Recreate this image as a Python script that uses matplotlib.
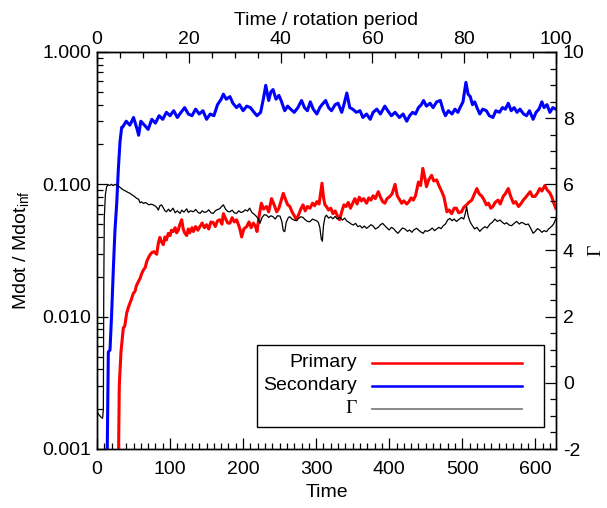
import numpy as np
import matplotlib
matplotlib.use("Agg")
import matplotlib.pyplot as plt
from matplotlib.ticker import MultipleLocator, LogLocator, FixedLocator, FuncFormatter, NullFormatter

plt.rcParams['font.family'] = ['Liberation Sans', 'DejaVu Sans']
plt.rcParams['axes.unicode_minus'] = False
plt.rcParams['mathtext.fontset'] = 'custom'
plt.rcParams['mathtext.rm'] = 'Liberation Sans'
plt.rcParams['mathtext.it'] = 'Liberation Sans:italic'

# ---------------- data ----------------
t_sec = [13, 14.1, 15.5, 17.8, 20.1, 22.3, 24.6, 27, 29.2, 31.5, 33.8,
         35, 40, 45, 50, 55, 57, 60, 65, 70, 75, 80, 85, 90, 95, 100, 105, 110, 115, 120,
         125, 130, 135, 140, 145, 150, 155, 160, 165, 170, 173, 177, 182, 186, 191, 195,
         200, 205, 210, 215, 219, 224, 228, 231, 235, 238, 241, 245, 249, 252, 257, 261,
         265, 270, 275, 280, 284, 288, 292, 296, 301, 305, 308, 313, 317, 321, 326, 330,
         335, 338, 342, 346, 350, 355, 360, 364, 369, 374, 378, 383, 388, 394, 398, 403,
         408, 414, 419, 424, 428, 432, 436, 440, 444, 447, 451, 456, 460, 465, 470, 474,
         477, 481, 486, 490, 494, 497, 501, 505, 508, 511, 514, 517, 521, 524, 528, 533,
         537, 542, 546, 551, 555, 559, 563, 567, 571, 575, 579, 584, 588, 592, 597, 601,
         605, 609, 612, 616, 620, 624, 628]
v_sec = [0.0003, 0.001, 0.0054, 0.0056, 0.0107, 0.0225, 0.045, 0.072, 0.13, 0.21, 0.27,
         0.27, 0.30, 0.28, 0.32, 0.26, 0.235, 0.30, 0.28, 0.26, 0.31, 0.29, 0.33, 0.31, 0.35, 0.33, 0.36, 0.32, 0.35, 0.38,
         0.34, 0.33, 0.37, 0.34, 0.36, 0.31, 0.34, 0.33, 0.40, 0.44, 0.48, 0.44, 0.46, 0.41, 0.38, 0.40,
         0.36, 0.39, 0.38, 0.35, 0.33, 0.35, 0.45, 0.56, 0.43, 0.50, 0.52, 0.44, 0.47, 0.43, 0.36, 0.39,
         0.37, 0.35, 0.38, 0.43, 0.38, 0.36, 0.42, 0.37, 0.34, 0.38, 0.40, 0.43, 0.38, 0.36, 0.40, 0.41,
         0.35, 0.40, 0.49, 0.38, 0.37, 0.35, 0.36, 0.32, 0.34, 0.31, 0.35, 0.37, 0.34, 0.39, 0.36, 0.33,
         0.35, 0.32, 0.34, 0.30, 0.33, 0.35, 0.34, 0.38, 0.40, 0.43, 0.39, 0.41, 0.38, 0.42, 0.43, 0.36,
         0.33, 0.36, 0.34, 0.37, 0.35, 0.38, 0.42, 0.59, 0.48, 0.46, 0.40, 0.42, 0.37, 0.34, 0.37, 0.36,
         0.33, 0.32, 0.36, 0.35, 0.38, 0.37, 0.41, 0.36, 0.38, 0.35, 0.37, 0.34, 0.33, 0.36, 0.31, 0.35,
         0.37, 0.42, 0.38, 0.40, 0.35, 0.38, 0.37]

t_pri = [29, 30.5, 32.8, 36, 38, 40.6, 43, 45, 47, 49.7, 52, 54, 56.5, 59, 61, 63.3, 66, 68, 70, 72,
         75, 78, 81.7, 84, 86, 88, 90.8, 93, 95, 97.6, 100, 102, 104.4, 107, 109, 111.3, 113, 115.9,
         118, 120, 122.8, 125, 127, 130, 132, 135, 138, 141, 144, 147, 150, 153, 156, 159, 162, 165,
         168, 171, 173, 176, 179, 182, 185, 188, 191, 194, 196, 198, 201, 205, 208, 211, 214, 217, 219,
         222, 225, 228, 232, 235, 239, 242, 246, 249, 252, 255, 258, 261, 264, 267, 270, 273, 276, 279,
         282, 285, 288, 291.5, 295, 298, 301, 304, 306, 308, 310, 312, 314, 317, 320, 323, 326, 329, 332,
         335, 338, 341, 344, 347, 350, 353, 356, 359, 362, 365, 369, 372, 375, 378, 381, 385, 388, 391,
         394, 397, 401, 404, 408, 411, 414, 417, 420, 424, 427, 430, 433, 436, 440, 443, 446, 449, 451,
         454, 458, 461, 465, 468, 472, 475, 479, 482, 485.5, 489, 492, 495, 499, 502, 506, 509, 513, 516,
         520, 523, 527, 530, 533, 536, 539, 542, 545, 549, 552, 556, 559, 563, 566, 570, 573, 577, 580,
         583.5, 587, 590, 593, 596, 599.5, 603, 606, 609, 613, 616, 620, 623, 625, 628]
v_pri = [0.0005, 0.0030, 0.0054, 0.0082, 0.0085, 0.0106, 0.0118, 0.0126, 0.0135, 0.015, 0.0155, 0.0172,
         0.0183, 0.0195, 0.021, 0.0225, 0.0235, 0.026, 0.0276, 0.029,
         0.0305, 0.031, 0.0296, 0.036, 0.0397, 0.037, 0.035, 0.040, 0.038, 0.0426, 0.041, 0.045, 0.044,
         0.047, 0.043, 0.045, 0.049, 0.054,
         0.046, 0.043, 0.041, 0.046, 0.043, 0.047, 0.044, 0.048, 0.045, 0.048, 0.051, 0.047, 0.0495, 0.046,
         0.052, 0.0515, 0.048, 0.053,
         0.054, 0.050, 0.060, 0.055, 0.051, 0.0509, 0.056, 0.052, 0.054, 0.049, 0.045, 0.040, 0.046, 0.048,
         0.052, 0.047, 0.051, 0.048, 0.044,
         0.058, 0.072, 0.065, 0.068, 0.062, 0.078, 0.071, 0.062, 0.066, 0.075, 0.0855, 0.077, 0.070, 0.068,
         0.062, 0.058, 0.054, 0.059, 0.065,
         0.070, 0.063, 0.068, 0.066, 0.072, 0.069, 0.074, 0.071, 0.085, 0.102, 0.080, 0.070, 0.068, 0.064,
         0.066, 0.060, 0.063, 0.058, 0.054,
         0.062, 0.070, 0.068, 0.073, 0.066, 0.072, 0.078, 0.071, 0.080, 0.075, 0.078, 0.072, 0.079, 0.076,
         0.082, 0.078, 0.088, 0.080, 0.074,
         0.072, 0.078, 0.081, 0.085, 0.100, 0.082, 0.077, 0.072, 0.075, 0.071, 0.074, 0.079, 0.076, 0.082,
         0.104, 0.098, 0.132, 0.110, 0.096,
         0.108, 0.117, 0.106, 0.108, 0.098, 0.088, 0.080, 0.062, 0.064, 0.060, 0.066, 0.066, 0.061, 0.062,
         0.067, 0.070, 0.073, 0.076, 0.083,
         0.093, 0.085, 0.081, 0.076, 0.070, 0.072, 0.066, 0.068, 0.073, 0.076, 0.071, 0.081, 0.085, 0.093,
         0.082, 0.072, 0.074, 0.068, 0.071,
         0.076, 0.080, 0.084, 0.088, 0.081, 0.081, 0.086, 0.093, 0.089, 0.098, 0.091, 0.086, 0.079, 0.073, 0.066]

t_gam = [0, 2, 4, 6, 7.7, 8.7, 9.3, 10, 11.5, 13.2, 15, 17.8, 20, 22, 24.6, 27, 29.2, 32, 36, 39, 42,
         45, 48, 51, 54, 57, 59, 61, 64, 66, 68, 71, 74, 77, 80, 82, 84, 86, 88.4, 91, 93, 95, 98, 100,
         102, 104, 107, 110, 113.6, 116, 119, 122.8, 125, 128, 132, 135, 138, 141, 144, 147, 150, 153,
         156, 159, 162, 165, 168, 170, 173, 176, 179, 182, 185, 188, 191, 194, 197, 200, 203, 206, 209,
         212, 215, 218.6, 221, 223, 226, 229, 232, 235, 238, 241, 244, 247, 250.5, 253, 255, 257, 259,
         262, 264, 267, 270, 273, 276, 279, 282, 285, 288, 291.5, 295, 298, 300.6, 303, 305, 307, 308.5,
         310, 312, 314, 317, 320, 323, 326, 329, 332.6, 336, 339, 341.6, 345, 348, 350.8, 354, 357, 360,
         363, 366, 369, 372, 375, 378, 381, 385, 388, 391, 394, 397, 400, 403, 406, 409, 412, 415, 418,
         421.5, 425, 428, 431, 434, 437.6, 441, 444, 446.6, 449, 452, 455.8, 459, 462, 465, 468, 471,
         474, 477, 480, 483, 486, 489, 492, 495, 499, 502, 504, 506, 508, 510.5, 513, 517, 520, 524, 527,
         531, 534, 538, 541, 544.7, 548, 551.6, 555, 558, 560.7, 564, 567.6, 571, 574.5, 578, 581, 583.5,
         587, 590.4, 593, 597, 600, 603, 606, 609, 612, 615.5, 618, 622, 625, 628]
v_gam = [-0.85, -0.95, -1.0, -1.05, -1.07, -0.8, 3.0, 5.0, 5.7, 5.93, 5.98, 5.97, 6.00, 5.96, 6.0, 5.97,
         5.95, 5.9, 5.83, 5.80, 5.76,
         5.73, 5.68, 5.64, 5.58, 5.55, 5.44, 5.47, 5.42, 5.45, 5.43, 5.38, 5.40, 5.38, 5.34, 5.30, 5.22,
         5.35, 5.38, 5.28, 5.20, 5.17, 5.25, 5.18,
         5.22, 5.28, 5.14, 5.20, 5.12, 5.22, 5.16, 5.26, 5.15, 5.20, 5.17, 5.24, 5.16, 5.12, 5.20, 5.15,
         5.17, 5.23,
         5.14, 5.12, 5.20, 5.24, 5.26, 5.32, 5.38, 5.25, 5.18, 5.17, 5.22, 5.14, 5.12, 5.20, 5.15, 5.17,
         5.23, 5.19, 5.28,
         5.15, 5.10, 5.02, 4.95, 4.82, 5.00, 5.08, 5.07, 5.00, 5.05, 5.02, 4.95, 5.05, 5.04, 4.88, 4.60,
         4.57, 4.85,
         5.00, 5.02, 4.95, 4.92, 4.90, 4.97, 5.02, 5.00, 4.93, 4.88, 4.87, 4.95, 4.92, 4.90, 4.85, 4.70,
         4.35, 4.28,
         4.75, 5.00, 5.07, 4.98, 5.02, 4.96, 5.03, 4.95, 5.00, 4.92, 4.98, 4.90, 4.85, 4.80, 4.77, 4.82,
         4.72, 4.75,
         4.68, 4.74, 4.67, 4.72, 4.78, 4.74, 4.65, 4.70, 4.78, 4.82, 4.75, 4.68, 4.62, 4.70, 4.66, 4.58,
         4.52, 4.60, 4.68,
         4.65, 4.58, 4.62, 4.55, 4.63, 4.67, 4.60, 4.55, 4.52, 4.60, 4.58, 4.62, 4.68, 4.60, 4.65, 4.70,
         4.66,
         4.75, 4.80, 4.92, 4.97, 4.90, 4.95, 4.88, 4.93, 5.00, 4.95, 5.10, 5.32, 5.05, 4.88, 4.78, 4.65,
         4.70, 4.58, 4.65,
         4.72, 4.68, 4.80, 4.85, 4.95, 4.88, 4.92, 4.85, 4.80, 4.84, 4.77, 4.75, 4.82, 4.88, 4.80, 4.85,
         4.83,
         4.78, 4.80, 4.70, 4.52, 4.58, 4.66, 4.62, 4.55, 4.60, 4.57, 4.65, 4.72, 4.80, 4.95]

x_ticks = [0, 100, 200, 300, 400, 500, 600]
top_ticks = [0, 20, 40, 60, 80, 100]
left_ticks = [0.001, 0.01, 0.1, 1.0]
right_ticks = [-2, 0, 2, 4, 6, 8, 10]
legend_labels = ["Primary", "Secondary", "\u0393"]

TMAX = 200 * np.pi  # 100 rotation periods

# ---------------- figure ----------------
fig = plt.figure(figsize=(6.07, 5.08), dpi=100)
L, R, T, B = 97, 556, 52, 449
ax = fig.add_axes([L / 607, 1 - B / 508, (R - L) / 607, (B - T) / 508])
FS = 14

ax.set_yscale('log')
ax.set_xlim(0, TMAX)
ax.set_ylim(0.001, 1.0)
ax.plot(t_pri, v_pri, color='#ff0000', lw=2.2, zorder=3)
ax.plot(t_sec, v_sec, color='#0000ff', lw=2.2, zorder=3)

ax.xaxis.set_major_locator(FixedLocator(x_ticks))
ax.xaxis.set_minor_locator(MultipleLocator(10))
ax.yaxis.set_major_locator(FixedLocator(left_ticks))
ax.yaxis.set_minor_locator(LogLocator(base=10, subs=np.arange(2, 10)))
ax.yaxis.set_minor_formatter(NullFormatter())
ax.yaxis.set_major_formatter(FuncFormatter(lambda v, p: "%.3f" % v))
ax.tick_params(which='both', direction='in', top=False, right=False, labelsize=FS, colors='black')
ax.tick_params(which='major', length=8, width=0.9)
ax.tick_params(which='minor', length=4, width=0.9)
ax.tick_params(axis='x', which='major', pad=9)
ax.tick_params(axis='y', which='major', pad=4)
ax.set_xlabel("Time", fontsize=FS, labelpad=4)
ax.set_ylabel("Mdot / Mdot$_{\\mathrm{inf}}$", fontsize=FS, labelpad=8)
for s in ax.spines.values():
    s.set_linewidth(1.0)

# top axis: rotation periods
sec = ax.secondary_xaxis('top', functions=(lambda t: t / (2 * np.pi), lambda p: p * 2 * np.pi))
sec.xaxis.set_major_locator(FixedLocator(top_ticks))
sec.xaxis.set_minor_locator(MultipleLocator(5))
sec.tick_params(which='both', direction='in', labelsize=FS)
sec.tick_params(which='major', length=8, width=0.9, pad=3)
sec.tick_params(which='minor', length=4, width=0.9)
sec.set_xlabel("Time / rotation period", fontsize=FS, labelpad=4)

# right axis: Gamma
ax2 = ax.twinx()
ax2.set_ylim(-2, 10)
ax2.plot(t_gam, v_gam, color='black', lw=0.9, zorder=4)
ax2.yaxis.set_major_locator(FixedLocator(right_ticks))
ax2.yaxis.set_minor_locator(MultipleLocator(0.5))
ax2.tick_params(which='both', direction='in', labelsize=FS)
ax2.tick_params(which='major', length=8, width=0.9, pad=5)
ax2.tick_params(which='minor', length=4, width=0.9)
ax2.set_ylabel("\u0393", fontsize=FS, family=['Liberation Serif', 'DejaVu Serif'],
               rotation=90, labelpad=2)
for s in ax2.spines.values():
    s.set_linewidth(1.0)

# legend box (axes coordinates)
ax2.add_patch(plt.Rectangle((0.349, 0.055), 0.625, 0.207, transform=ax2.transAxes,
                            facecolor='white', edgecolor='black', lw=1.0, zorder=6))
leg_colors = ['#ff0000', '#0000ff', '#808080']
leg_widths = [1.8, 1.8, 1.3]
leg_y = [0.217, 0.159, 0.101]
for lab, c, w, y in zip(legend_labels, leg_colors, leg_widths, leg_y):
    ax2.plot([0.600, 0.927], [y, y], color=c, lw=w, transform=ax2.transAxes, zorder=7)
    if lab == "\u0393":
        ax2.text(0.566, y, lab, transform=ax2.transAxes, ha='right', va='center',
                 fontsize=FS, family=['Liberation Serif', 'DejaVu Serif'], zorder=7)
    else:
        ax2.text(0.566, y, lab, transform=ax2.transAxes, ha='right', va='center',
                 fontsize=FS, zorder=7)

fig.savefig("out.png", dpi=100)
